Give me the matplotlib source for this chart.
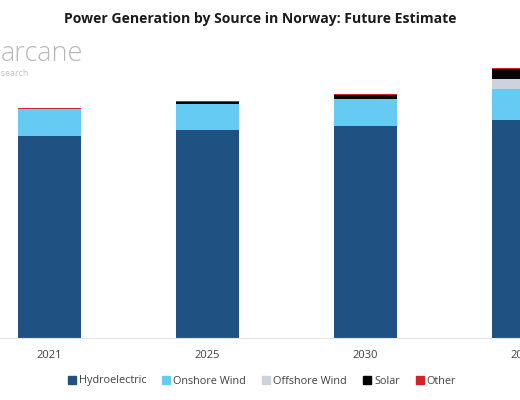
import matplotlib
matplotlib.use("Agg")
import matplotlib.pyplot as plt
from matplotlib.lines import Line2D
import numpy as np

years = ["2021", "2025", "2030", "2035"]
hydro = [143.0, 147.0, 150.3, 154.3]
onshore = [18.8, 18.8, 18.7, 22.0]
offshore = [0.0, 0.0, 0.0, 7.0]
solar = [0.2, 1.6, 2.7, 7.2]
other = [0.7, 0.7, 0.7, 0.8]

series = [
    ("Hydroelectric", hydro, "#1F5183"),
    ("Onshore Wind", onshore, "#65CBF3"),
    ("Offshore Wind", offshore, "#CDD3DD"),
    ("Solar", solar, "#050505"),
    ("Other", other, "#D2232A"),
]

plt.rcParams['font.family'] = ['Open Sans', 'DejaVu Sans']

W, H = 520, 400
fig = plt.figure(figsize=(W / 100, H / 100), dpi=100)
# axes in pixel coordinates (wider than the figure, reference is cropped)
left_px, right_px = -29.5, 602.5
bottom_px, top_px = 338, 40
ax = fig.add_axes([left_px / W, 1 - bottom_px / H,
                   (right_px - left_px) / W, (bottom_px - top_px) / H])

x = np.arange(len(years))
bottom = np.zeros(len(years))
for name, vals, col in series:
    vals = np.array(vals)
    ax.bar(x, vals, width=0.4, bottom=bottom, color=col, linewidth=0)
    bottom += vals

ax.set_xlim(-0.5, 3.5)
ax.set_ylim(0, 298 * 0.708)
ax.set_yticks([])
ax.set_xticks(x)
ax.set_xticklabels(years, fontsize=8, color="#404040")
ax.tick_params(axis="x", length=0, pad=9)
for s in ["top", "right", "left"]:
    ax.spines[s].set_visible(False)
ax.spines["bottom"].set_color("#E3E3E3")
ax.spines["bottom"].set_linewidth(0.8)

fig.text(0.5, 1 - 19 / H, "Power Generation by Source in Norway: Future Estimate",
         ha="center", va="center", fontsize=10.1, fontweight="bold", color="#1a1a1a")

# watermark
fig.text(83 / W, 1 - 54 / H, "arcane", ha="right", va="center",
         fontsize=19.5, color="#B8B8B8", fontweight="light")
fig.text(29 / W, 1 - 74 / H, "research", ha="right", va="center",
         fontsize=6.5, color="#C2C2C2")

handles = [Line2D([], [], marker="s", linestyle="none", markersize=6,
                  markerfacecolor=c, markeredgecolor=c) for _, _, c in series]
labels = [n for n, _, _ in series]
fig.legend(handles, labels, loc="center", bbox_to_anchor=(262 / W, 1 - 381 / H),
           ncol=5, frameon=False, fontsize=7.8, handlelength=0.7, handletextpad=0.3,
           columnspacing=1.5, labelcolor="#404040")

fig.savefig("out.png", dpi=100)
